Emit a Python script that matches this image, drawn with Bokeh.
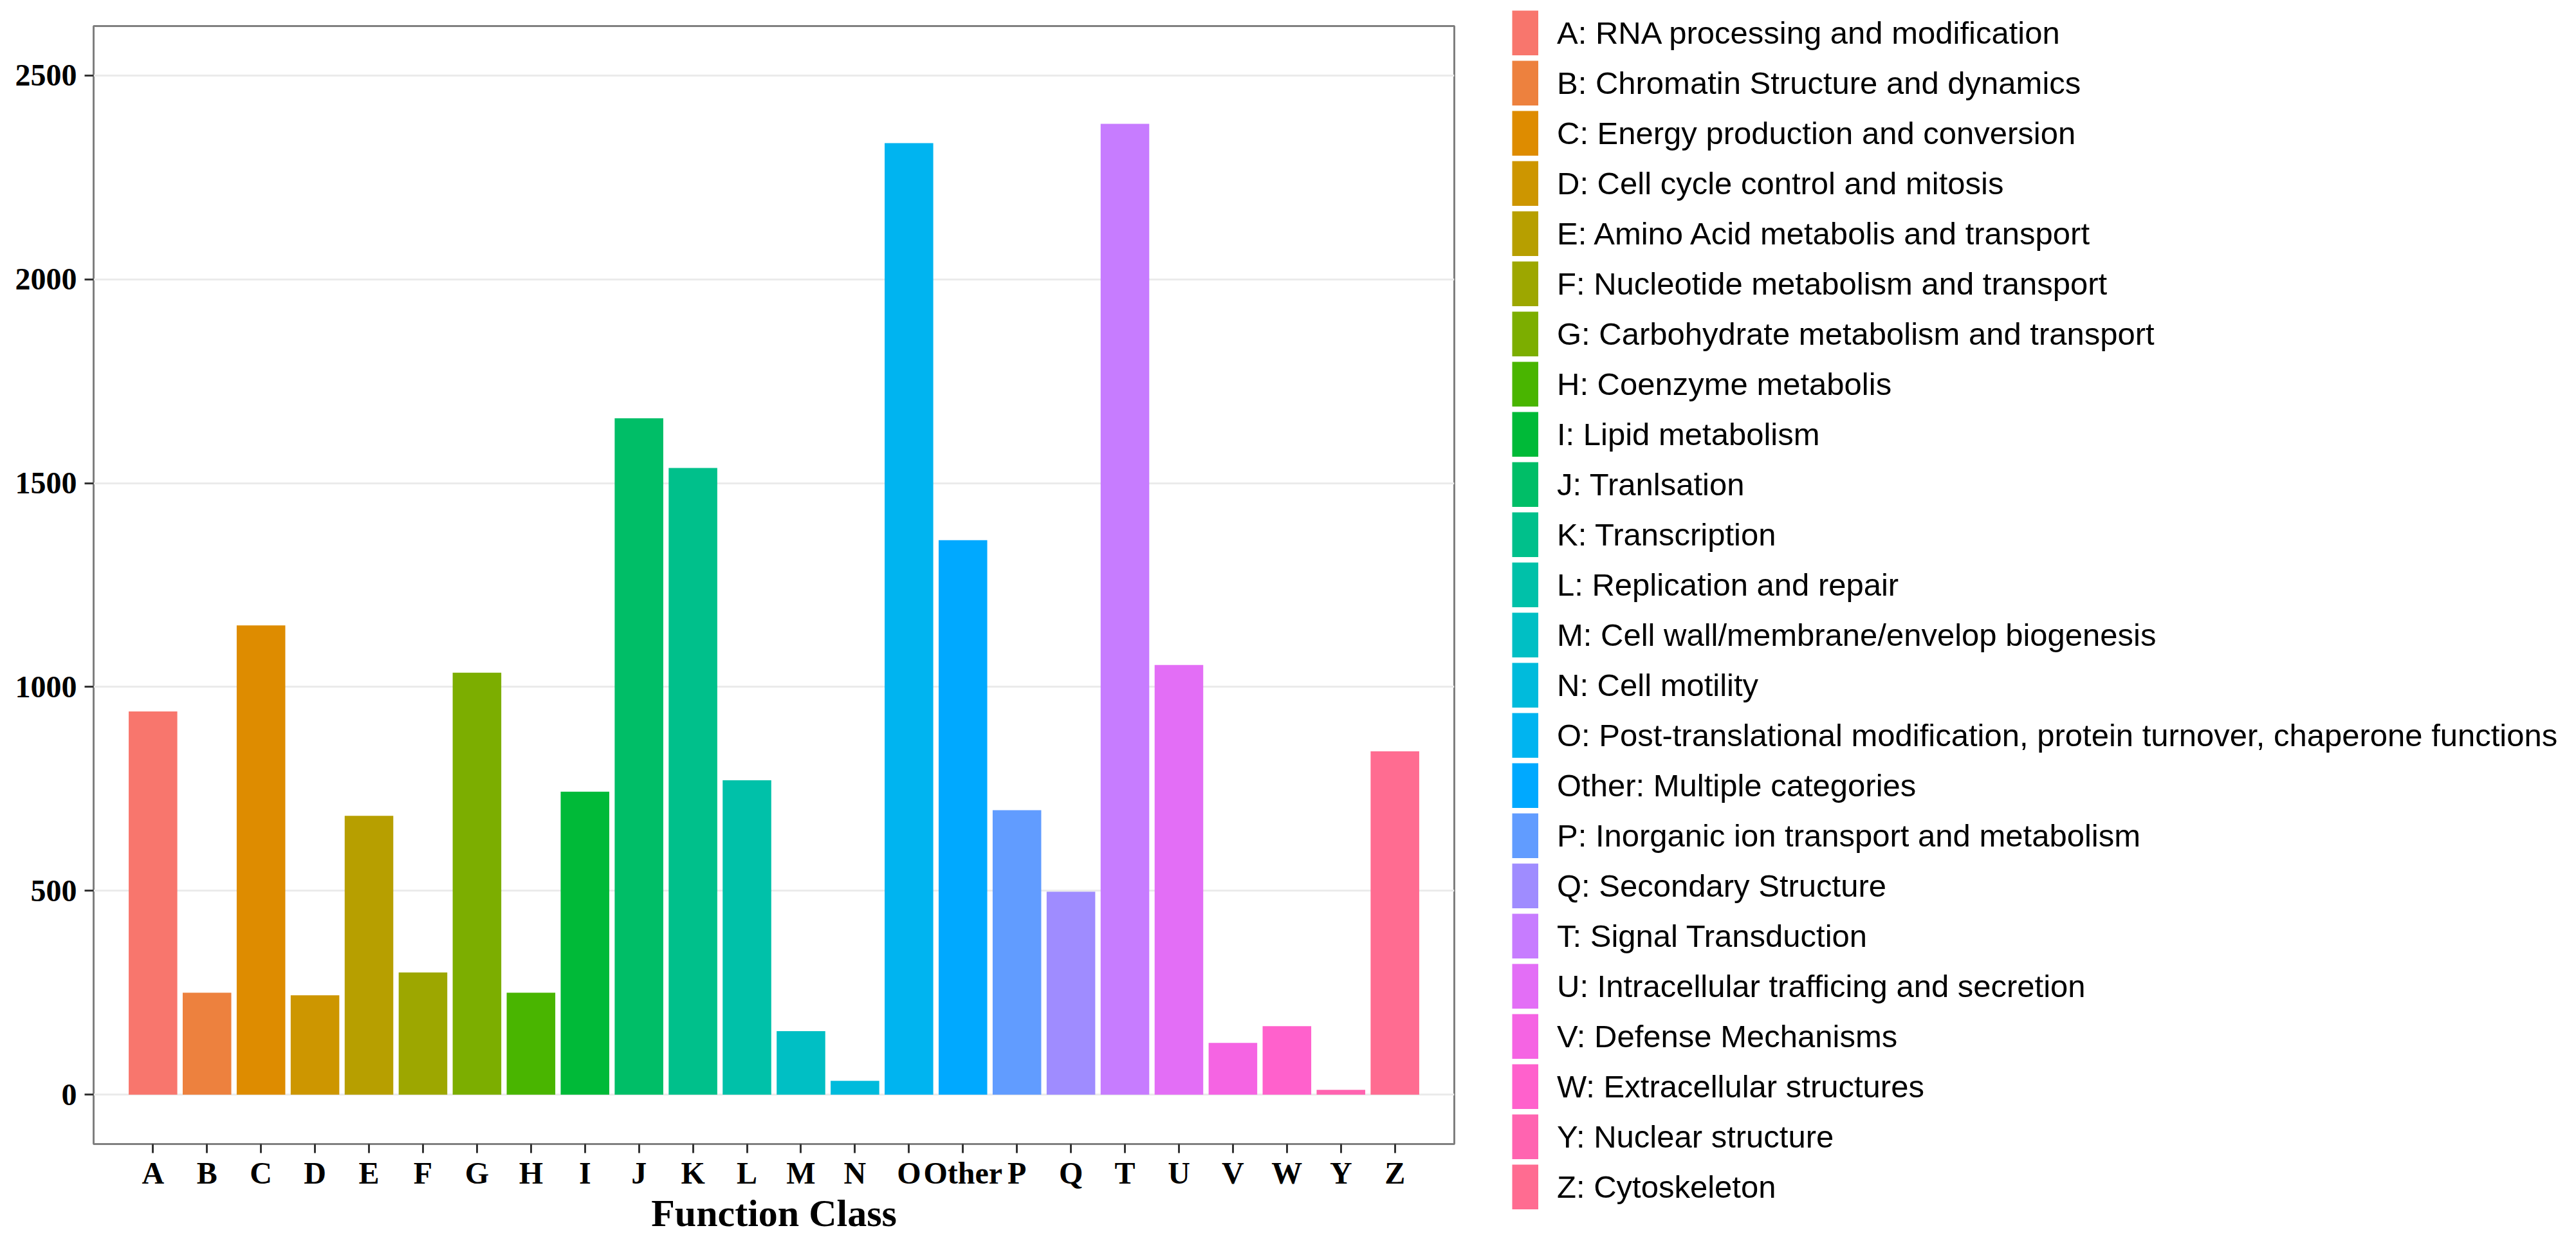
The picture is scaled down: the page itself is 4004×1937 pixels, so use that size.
import math
from bokeh.plotting import figure
from bokeh.layouts import row, column
from bokeh.models import (ColumnDataSource, FactorRange, FixedTicker, Legend,
                          LegendItem, Range1d)
from bokeh.embed import file_html
from bokeh.resources import INLINE

# ---- data ----
categories = ["A", "B", "C", "D", "E", "F", "G", "H", "I", "J", "K", "L",
              "M", "N", "O", "Other", "P", "Q", "T", "U", "V", "W", "Y", "Z"]
counts = [940, 250, 1151, 244, 684, 300, 1035, 250, 743, 1659, 1537, 771,
          156, 34, 2334, 1360, 698, 498, 2381, 1054, 127, 168, 12, 842]
descriptions = [
    "A: RNA processing and modification",
    "B: Chromatin Structure and dynamics",
    "C: Energy production and conversion",
    "D: Cell cycle control and mitosis",
    "E: Amino Acid metabolis and transport",
    "F: Nucleotide metabolism and transport",
    "G: Carbohydrate metabolism and transport",
    "H: Coenzyme metabolis",
    "I: Lipid metabolism",
    "J: Tranlsation",
    "K: Transcription",
    "L: Replication and repair",
    "M: Cell wall/membrane/envelop biogenesis",
    "N: Cell motility",
    "O: Post-translational modification, protein turnover, chaperone functions",
    "Other: Multiple categories",
    "P: Inorganic ion transport and metabolism",
    "Q: Secondary Structure",
    "T: Signal Transduction",
    "U: Intracellular trafficing and secretion",
    "V: Defense Mechanisms",
    "W: Extracellular structures",
    "Y: Nuclear structure",
    "Z: Cytoskeleton",
]
y_ticks = [0, 500, 1000, 1500, 2000, 2500]


# ---- ggplot-like hue palette (style only) ----
def hcl_hex(h, c=100.0, l=65.0):
    Xn, Yn, Zn = 95.047, 100.0, 108.883
    hr = math.radians(h)
    u = c * math.cos(hr)
    v = c * math.sin(hr)
    Y = Yn * ((l + 16) / 116) ** 3 if l > 8 else Yn * l / 903.3
    d = Xn + 15 * Yn + 3 * Zn
    un = 4 * Xn / d
    vn = 9 * Yn / d
    up = u / (13 * l) + un
    vp = v / (13 * l) + vn
    X = 9 * Y * up / (4 * vp)
    Z = Y * (12 - 3 * up - 20 * vp) / (4 * vp)
    X, Y, Z = X / 100, Y / 100, Z / 100
    r = 3.240479 * X - 1.537150 * Y - 0.498535 * Z
    g = -0.969256 * X + 1.875992 * Y + 0.041556 * Z
    b = 0.055648 * X - 0.204043 * Y + 1.057311 * Z

    def gam(x):
        x = 12.92 * x if x <= 0.0031308 else 1.055 * (max(x, 0) ** (1 / 2.4)) - 0.055
        return min(1.0, max(0.0, x))
    return "#%02X%02X%02X" % tuple(int(round(gam(q) * 255)) for q in (r, g, b))


n = len(categories)
colors = [hcl_hex(15 + 360.0 * i / n) for i in range(n)]

source = ColumnDataSource(dict(cat=categories, count=counts, color=colors,
                               desc=descriptions, zero=[0] * n))

H = 1921
W1 = 2300
W2 = 3988 - W1

# ---------------- main bar chart ----------------
p = figure(width=W1, height=H, output_backend="svg", toolbar_location=None,
           x_range=FactorRange(factors=categories, range_padding=0.6,
                               range_padding_units="absolute"),
           y_range=Range1d(-121, 2621),
           min_border_left=145, min_border_top=40, min_border_bottom=143,
           min_border_right=W1 - 145 - 2115)

p.vbar(x="cat", top="count", bottom=0, width=0.9, color="color",
       line_color=None, source=source)

p.background_fill_color = "white"
p.border_fill_color = "white"
p.outline_line_color = "#7F7F7F"
p.outline_line_width = 3

p.xgrid.grid_line_color = None
p.ygrid.grid_line_color = "#EBEBEB"
p.ygrid.grid_line_width = 3
p.yaxis.ticker = FixedTicker(ticks=y_ticks)

for ax in (p.xaxis[0], p.yaxis[0]):
    ax.axis_line_color = None
    ax.major_tick_line_color = "#333333"
    ax.major_tick_line_width = 3
    ax.major_tick_in = 0
    ax.major_tick_out = 14
    ax.minor_tick_line_color = None
    ax.major_label_text_font = "Liberation Serif"
    ax.major_label_text_font_style = "bold"
    ax.major_label_text_font_size = "48px"
    ax.major_label_text_color = "black"

p.yaxis.major_label_standoff = 12
p.xaxis.major_label_standoff = 4
p.xaxis.axis_label = "Function Class"
p.xaxis.axis_label_text_font = "Liberation Serif"
p.xaxis.axis_label_text_font_style = "bold"
p.xaxis.axis_label_text_font_size = "60px"
p.xaxis.axis_label_text_color = "black"
p.xaxis.axis_label_standoff = 0

# ---------------- legend panel ----------------
lg = figure(width=W2, height=H, output_backend="svg", toolbar_location=None,
            title=None,
            x_range=FactorRange(factors=categories), y_range=Range1d(0, 1),
            x_axis_location=None, y_axis_location=None,
            min_border=0, min_border_left=0, min_border_right=0,
            min_border_top=0, min_border_bottom=0)
lg.outline_line_color = None
lg.xgrid.grid_line_color = None
lg.ygrid.grid_line_color = None
lg.background_fill_color = "white"
lg.border_fill_color = "white"

# key swatches: a hidden renderer whose legend glyph is a thick butt-capped line
key_r = lg.segment(x0="cat", y0="zero", x1="cat", y1="count", source=source,
                   line_color="color", line_width=70, line_cap="butt")
key_r.visible = False

items = [LegendItem(label=descriptions[i], renderers=[key_r], index=i)
         for i in range(n)]
glyph_h, gap = 70, 8
leg_h = n * glyph_h + (n - 1) * gap
legend = Legend(items=items, location=(50, H - 16 - leg_h),
                orientation="vertical", click_policy="none",
                glyph_width=41, glyph_height=glyph_h, spacing=gap, padding=0,
                margin=0, label_standoff=29, label_height=glyph_h,
                label_text_font="Liberation Sans", label_text_font_size="49px",
                label_text_color="black", border_line_color=None,
                background_fill_alpha=0, inactive_fill_alpha=0)
lg.add_layout(legend, "center")

layout = row(p, column(lg))
open("out.html", "w").write(file_html(layout, INLINE))
